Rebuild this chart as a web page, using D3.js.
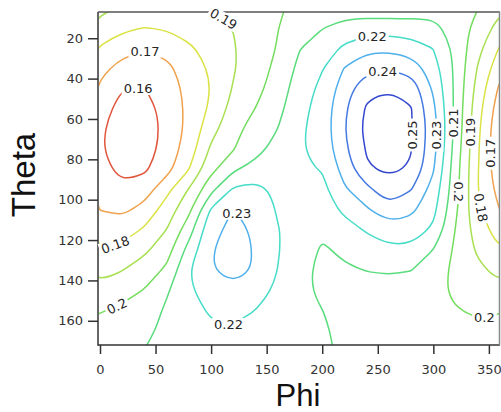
<!DOCTYPE html>
<html>
<head>
<meta charset="utf-8">
<script src="https://cdn.jsdelivr.net/npm/d3@7"></script>
<style>
  body { margin: 0; background: #fff; }
  svg { display: block; }
  .axis path { display: none; }
  .axis line { stroke: #333; stroke-width: 1.5; }
  .axis text { font-family: "DejaVu Sans", sans-serif; font-size: 13px; fill: #333; }
  .clabel { font-family: "DejaVu Sans", sans-serif; font-size: 13px; fill: #262626; }
  .title { font-family: "Liberation Sans", sans-serif; font-size: 33px; fill: #111; }
</style>
</head>
<body>
<svg id="chart" width="501" height="412"></svg>
<script>
// grid columns (Phi, degrees)
var phiValues = [0, 20, 40, 60, 80, 100, 120, 140, 160, 180, 200, 220, 240, 260, 280, 300, 320, 340, 360];
// grid rows (Theta, degrees)
var thetaValues = [5, 15, 25, 35, 45, 55, 65, 75, 85, 95, 105, 115, 125, 135, 145, 155, 165, 175];
// one row per theta, one value per phi
var gridRows = [
  [0.192, 0.1895, 0.1886, 0.188, 0.1875, 0.1898, 0.1915, 0.1945, 0.1993, 0.2015, 0.2085, 0.2058, 0.2045, 0.2042, 0.2045, 0.2062, 0.2045, 0.2003, 0.192],
  [0.186, 0.1818, 0.1797, 0.1808, 0.1838, 0.1868, 0.1902, 0.1942, 0.1998, 0.2045, 0.2098, 0.2131, 0.2151, 0.2155, 0.2148, 0.2128, 0.2058, 0.1965, 0.186],
  [0.179, 0.1735, 0.1707, 0.1729, 0.1785, 0.1835, 0.1893, 0.1945, 0.2006, 0.2098, 0.2138, 0.2222, 0.2278, 0.2276, 0.2251, 0.2198, 0.2074, 0.1928, 0.179],
  [0.173, 0.1663, 0.1651, 0.1675, 0.175, 0.1812, 0.1892, 0.1955, 0.2025, 0.2128, 0.2195, 0.2305, 0.2372, 0.2394, 0.2361, 0.2248, 0.2078, 0.1893, 0.173],
  [0.168, 0.1602, 0.1598, 0.165, 0.1728, 0.1803, 0.1907, 0.197, 0.2048, 0.2152, 0.2225, 0.2352, 0.2478, 0.2496, 0.2468, 0.2285, 0.2078, 0.1862, 0.168],
  [0.164, 0.1565, 0.1555, 0.1638, 0.1722, 0.1818, 0.1938, 0.2002, 0.2072, 0.2172, 0.2238, 0.2385, 0.2512, 0.2545, 0.2506, 0.2322, 0.2075, 0.1838, 0.164],
  [0.1615, 0.155, 0.154, 0.1633, 0.1725, 0.1865, 0.1968, 0.2045, 0.2101, 0.2185, 0.2242, 0.2395, 0.2532, 0.2562, 0.2508, 0.2345, 0.2072, 0.1822, 0.1615],
  [0.161, 0.1552, 0.1545, 0.1643, 0.1745, 0.1918, 0.1995, 0.2068, 0.2135, 0.2192, 0.2232, 0.238, 0.2508, 0.2548, 0.2503, 0.2335, 0.2058, 0.1812, 0.161],
  [0.163, 0.1575, 0.1585, 0.1665, 0.1798, 0.1972, 0.2088, 0.2135, 0.2158, 0.2192, 0.2203, 0.2338, 0.2492, 0.2512, 0.2494, 0.2308, 0.2042, 0.1805, 0.163],
  [0.166, 0.162, 0.1652, 0.1773, 0.1907, 0.2074, 0.2215, 0.2235, 0.2175, 0.2185, 0.2172, 0.2287, 0.2372, 0.2465, 0.2403, 0.2262, 0.2037, 0.1802, 0.166],
  [0.1698, 0.168, 0.1732, 0.1846, 0.1977, 0.2212, 0.2302, 0.2262, 0.2192, 0.2175, 0.2143, 0.2222, 0.2287, 0.2372, 0.2322, 0.2228, 0.2018, 0.1818, 0.1698],
  [0.175, 0.1752, 0.1813, 0.1902, 0.2056, 0.2282, 0.2318, 0.2292, 0.2204, 0.2162, 0.2115, 0.2158, 0.2209, 0.2248, 0.225, 0.2182, 0.1996, 0.1852, 0.175],
  [0.1802, 0.1829, 0.1882, 0.1958, 0.2138, 0.2295, 0.2335, 0.2293, 0.2206, 0.2148, 0.2088, 0.2118, 0.2155, 0.2182, 0.2176, 0.2098, 0.1983, 0.1885, 0.1802],
  [0.1865, 0.1898, 0.1948, 0.2018, 0.2195, 0.2298, 0.2318, 0.2296, 0.2198, 0.2133, 0.2072, 0.2088, 0.2102, 0.2108, 0.2102, 0.2045, 0.1978, 0.1925, 0.1865],
  [0.193, 0.1964, 0.2005, 0.2087, 0.2185, 0.2255, 0.2288, 0.2255, 0.2178, 0.2122, 0.2082, 0.2072, 0.2068, 0.2072, 0.2045, 0.2022, 0.1986, 0.1958, 0.193],
  [0.1995, 0.2018, 0.2038, 0.2118, 0.2165, 0.2212, 0.2235, 0.2198, 0.2162, 0.2115, 0.2101, 0.2075, 0.2058, 0.206, 0.2035, 0.2015, 0.2004, 0.1992, 0.1995],
  [0.2025, 0.2045, 0.207, 0.2132, 0.2155, 0.2185, 0.2187, 0.2165, 0.2148, 0.211, 0.2108, 0.2085, 0.2055, 0.2055, 0.2035, 0.2018, 0.2015, 0.2012, 0.2025],
  [0.204, 0.206, 0.2103, 0.2138, 0.2148, 0.2165, 0.216, 0.2148, 0.214, 0.2107, 0.211, 0.209, 0.2055, 0.2055, 0.2038, 0.2025, 0.202, 0.2025, 0.204]
];
var levels = [0.16, 0.17, 0.18, 0.19, 0.2, 0.21, 0.22, 0.23, 0.24, 0.25];
var levelColors = ["#e0553c", "#f0a24e", "#dbe245", "#a8e052", "#74dd5e", "#58dc7c", "#46dcc8", "#4fb0ec", "#4579e2", "#3448cf"];
var xTicks = [0, 50, 100, 150, 200, 250, 300, 350];
var yTicks = [20, 40, 60, 80, 100, 120, 140, 160];
// contour labels: level, text, rough spot on the line, rotation
var contourLabels = [
  { level: 0.19, text: "0.19", phi: 109, theta: 11.5, angle: 30 },
  { level: 0.17, text: "0.17", phi: 40.5, theta: 26.3, angle: 0 },
  { level: 0.16, text: "0.16", phi: 34, theta: 42.5, angle: 0 },
  { level: 0.18, text: "0.18", phi: 15, theta: 124.5, angle: -20 },
  { level: 0.2, text: "0.2", phi: 15, theta: 152.5, angle: -25 },
  { level: 0.23, text: "0.23", phi: 122, theta: 107, angle: 0 },
  { level: 0.22, text: "0.22", phi: 116, theta: 161, angle: 0 },
  { level: 0.22, text: "0.22", phi: 245, theta: 19, angle: 0 },
  { level: 0.24, text: "0.24", phi: 254, theta: 35, angle: 0 },
  { level: 0.25, text: "0.25", phi: 284, theta: 68, angle: -90 },
  { level: 0.23, text: "0.23", phi: 303, theta: 68, angle: -90 },
  { level: 0.21, text: "0.21", phi: 317.5, theta: 62, angle: -90 },
  { level: 0.19, text: "0.19", phi: 333, theta: 66.5, angle: -90 },
  { level: 0.17, text: "0.17", phi: 350, theta: 77, angle: -90 },
  { level: 0.2, text: "0.2", phi: 321, theta: 96, angle: 90 },
  { level: 0.18, text: "0.18", phi: 342, theta: 104, angle: 80 },
  { level: 0.2, text: "0.2", phi: 345.5, theta: 157, angle: 0 }
];

var svg = d3.select("#chart");
var x = d3.scaleLinear().domain([0, 360]).range([100, 500]);
var y = d3.scaleLinear().domain([7, 172]).range([12, 345]);

// phi wraps round, so pad one column on each side from the other end
var extPhi = [phiValues[phiValues.length - 2] - 360].concat(phiValues, [phiValues[1] + 360]);
var nx = extPhi.length, ny = thetaValues.length;
var flat = [];
gridRows.forEach(function (row) {
  flat.push(row[row.length - 2]);
  row.forEach(function (v) { flat.push(v); });
  flat.push(row[1]);
});
// grid space -> data space (d3.contours puts value i at i + 0.5)
var gx = d3.scaleLinear().domain([0.5, nx - 0.5]).range([extPhi[0], extPhi[nx - 1]]);
var gy = d3.scaleLinear().domain([0.5, ny - 0.5]).range([thetaValues[0], thetaValues[ny - 1]]);

var contours = d3.contours().size([nx, ny]).thresholds(levels)(flat);

function onEdge(p) { return p[0] <= 0 || p[0] >= nx || p[1] <= 0 || p[1] >= ny; }

// drop the parts of a ring that run along the grid border
function splitRing(ring) {
  var pts = ring.slice();
  if (pts.length > 1 && pts[0][0] === pts[pts.length - 1][0] && pts[0][1] === pts[pts.length - 1][1]) pts.pop();
  var start = pts.findIndex(onEdge);
  if (start < 0) return [{ closed: true, points: pts }];
  var runs = [], cur = [];
  for (var k = 1; k <= pts.length; k++) {
    var p = pts[(start + k) % pts.length];
    if (onEdge(p)) {
      if (cur.length > 1) runs.push({ closed: false, points: cur });
      cur = [];
    } else cur.push(p);
  }
  return runs;
}

svg.append("defs").append("clipPath").attr("id", "plot-clip")
  .append("rect").attr("x", 99).attr("y", 12).attr("width", 401).attr("height", 333);

var plot = svg.append("g").attr("clip-path", "url(#plot-clip)");
var openLine = d3.line().curve(d3.curveBasis);
var closedLine = d3.line().curve(d3.curveBasisClosed);
var runsByLevel = {};

contours.forEach(function (c) {
  var i = levels.indexOf(c.value);
  var runs = [];
  c.coordinates.forEach(function (poly) {
    poly.forEach(function (ring) {
      splitRing(ring).forEach(function (run) {
        run.points = run.points.map(function (p) { return [x(gx(p[0])), y(gy(p[1]))]; });
        runs.push(run);
      });
    });
  });
  runsByLevel[c.value] = runs;
  plot.selectAll(null).data(runs).enter().append("path")
    .attr("d", function (r) { return (r.closed ? closedLine : openLine)(r.points); })
    .attr("fill", "none")
    .attr("stroke", levelColors[i])
    .attr("stroke-width", 1.5);
});

// axes
svg.append("g").attr("class", "axis")
  .attr("transform", "translate(0,345)")
  .call(d3.axisBottom(x).tickValues(xTicks).tickSize(9).tickPadding(11).tickFormat(d3.format("d")));
svg.append("g").attr("class", "axis")
  .attr("transform", "translate(98,0)")
  .call(d3.axisLeft(y).tickValues(yTicks).tickSize(10).tickPadding(5).tickFormat(d3.format("d")));

// frame
svg.append("line").attr("x1", 98).attr("x2", 98).attr("y1", 12).attr("y2", 345.75).attr("stroke", "#333").attr("stroke-width", 1.5);
svg.append("line").attr("x1", 98).attr("x2", 500).attr("y1", 345).attr("y2", 345).attr("stroke", "#333").attr("stroke-width", 1.5);
svg.append("line").attr("x1", 98).attr("x2", 500).attr("y1", 12).attr("y2", 12).attr("stroke", "#555").attr("stroke-width", 1.5);
svg.append("line").attr("x1", 499.5).attr("x2", 499.5).attr("y1", 12).attr("y2", 345).attr("stroke", "#888").attr("stroke-width", 1.5);

// snap a label to the closest point on its contour
function nearestOnRuns(runs, px, py) {
  var best = [px, py], bd = 400;
  runs.forEach(function (r) {
    var pts = r.points, n = pts.length, segs = r.closed ? n : n - 1;
    for (var k = 0; k < segs; k++) {
      var a = pts[k], b = pts[(k + 1) % n];
      var dx = b[0] - a[0], dy = b[1] - a[1], len = dx * dx + dy * dy;
      var t = len ? Math.max(0, Math.min(1, ((px - a[0]) * dx + (py - a[1]) * dy) / len)) : 0;
      var qx = a[0] + t * dx, qy = a[1] + t * dy;
      var d = (qx - px) * (qx - px) + (qy - py) * (qy - py);
      if (d < bd) { bd = d; best = [qx, qy]; }
    }
  });
  return best;
}

var labelLayer = svg.append("g");
contourLabels.forEach(function (lb) {
  var p = nearestOnRuns(runsByLevel[lb.level] || [], x(lb.phi), y(lb.theta));
  var g = labelLayer.append("g")
    .attr("transform", "translate(" + p[0] + "," + p[1] + ") rotate(" + lb.angle + ")");
  var bg = g.append("rect").attr("fill", "#fff");
  var t = g.append("text").attr("class", "clabel")
    .attr("text-anchor", "middle").attr("dy", "0.36em").text(lb.text);
  var bb = t.node().getBBox();
  bg.attr("x", bb.x - 2).attr("y", bb.y + 1).attr("width", bb.width + 4).attr("height", bb.height - 2);
});

// axis titles
svg.append("text").attr("class", "title")
  .attr("transform", "translate(35,175) rotate(-90)")
  .attr("text-anchor", "middle").text("Theta");
svg.append("text").attr("class", "title")
  .attr("x", 298).attr("y", 405.5).style("font-size", "31px")
  .attr("text-anchor", "middle").text("Phi");
</script>
</body>
</html>
